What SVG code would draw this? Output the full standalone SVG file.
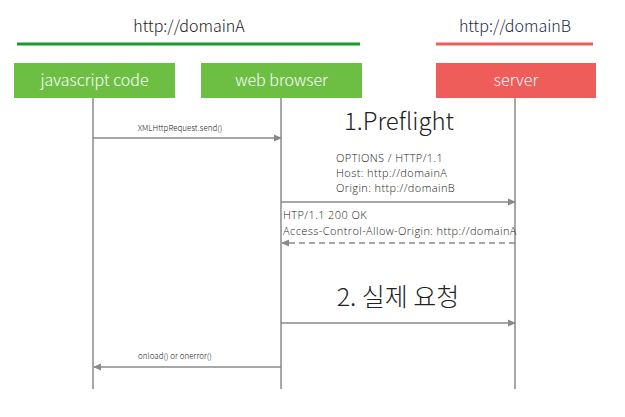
<svg xmlns="http://www.w3.org/2000/svg" width="625" height="417" viewBox="0 0 625 417">
<defs>
<marker id="ah" markerWidth="8" markerHeight="8" refX="7" refY="4" orient="auto" markerUnits="userSpaceOnUse">
<path d="M0,0.5 L8,4 L0,7.5 Z" fill="#8a8a8a"/>
</marker>
<style>
text{font-family:"Noto Sans CJK KR","Noto Sans",sans-serif;font-weight:300;}
.box{stroke:none;}
.lbl{fill:#ffffff;font-size:16px;text-anchor:middle;}
.life{stroke:#8a8a8a;stroke-width:1.5;fill:none;}
.msg{stroke:#8a8a8a;stroke-width:1.5;fill:none;marker-end:url(#ah);}
.small{font-size:8px;fill:#222;text-anchor:middle;}
.mid{font-family:"Open Sans","Noto Sans",sans-serif;font-size:11px;letter-spacing:0.4px;fill:#222;}
</style>
</defs>
<rect width="625" height="417" fill="#ffffff"/>
<g id="domainA">
<text x="189" y="32" font-size="16" fill="#222" text-anchor="middle">http://domainA</text>
<rect x="17" y="42.5" width="343" height="3" fill="#1e9a2c"/>
</g>
<g id="domainB">
<text x="515" y="32" font-size="16" fill="#1c2a4a" text-anchor="middle">http://domainB</text>
<rect x="436" y="42.5" width="157" height="3" fill="#ee5d5a"/>
</g>
<g id="connectors">
<line class="life" x1="93" y1="98" x2="93" y2="389"/>
<line class="life" x1="281" y1="98" x2="281" y2="389"/>
<line class="life" x1="515" y1="98" x2="515" y2="389"/>
<line class="msg" x1="93" y1="138" x2="281" y2="138"/>
<line class="msg" x1="281" y1="202" x2="515" y2="202"/>
<line class="msg" x1="515" y1="243" x2="282" y2="243" stroke-dasharray="6,4"/>
<line class="msg" x1="281" y1="323" x2="515" y2="323"/>
<line class="msg" x1="281" y1="367" x2="94" y2="367"/>
<text class="small" x="180" y="131">XMLHttpRequest.send()</text>
<text x="399" y="130" font-size="24" fill="#222" text-anchor="middle">1.Preflight</text>
<text class="mid" x="336" y="162"><tspan x="336" y="162">OPTIONS / HTTP/1.1</tspan><tspan x="336" y="177">Host: http://domainA</tspan><tspan x="336" y="192">Origin: http://domainB</tspan></text>
<text class="mid" x="283" y="219"><tspan x="283" y="219">HTP/1.1 200 OK</tspan><tspan x="283" y="235">Access-Control-Allow-Origin: http://domainA</tspan></text>
<text x="398" y="306" font-size="25" fill="#222" text-anchor="middle">2. 실제 요청</text>
<text class="small" x="175" y="359">onload() or onerror()</text>
</g>
<g id="node-js">
<rect class="box" x="14" y="63" width="161" height="35" fill="#6dbf43"/>
<text class="lbl" x="94.5" y="86">javascript code</text>
</g>
<g id="node-browser">
<rect class="box" x="201" y="63" width="161" height="35" fill="#6dbf43"/>
<text class="lbl" x="281.5" y="86">web browser</text>
</g>
<g id="node-server">
<rect class="box" x="436" y="63" width="160" height="35" fill="#ee5d5a"/>
<text class="lbl" x="516" y="86">server</text>
</g>
</svg>
